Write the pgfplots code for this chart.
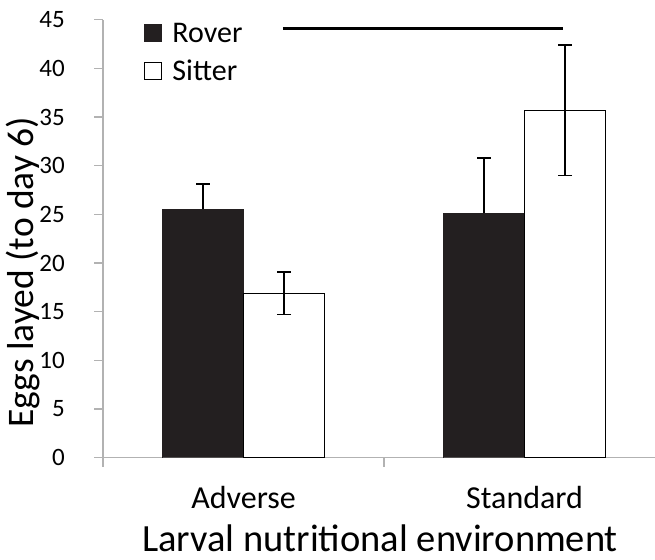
\documentclass[border=0pt]{standalone}
\usepackage{pgfplots}
\pgfplotsset{compat=1.18}
\usepackage{fontspec}
\setmainfont{Carlito}
\definecolor{axgray}{RGB}{178,178,178}
\definecolor{barblack}{RGB}{35,31,32}
\begin{document}
\begin{tikzpicture}[x=1pt,y=1pt]
\useasboundingbox (0,0) rectangle (655,559);
\begin{axis}[
  at={(103pt,101.3pt)}, anchor=south west,
  scale only axis, width=552pt, height=438pt,
  xmin=-0.5, xmax=1.464, ymin=0, ymax=45,
  axis x line=bottom, axis y line=left,
  axis line style={axgray, line width=1.3pt, -},
  every tick/.style={axgray, line width=1.3pt},
  tick align=outside, major tick length=9pt,
  ytick={0,5,...,45},
  xtick={-0.5,0.5}, xticklabels={},
  extra x ticks={0,1}, extra x tick labels={Adverse,Standard},
  extra x tick style={major tick length=0pt, xticklabel style={font=\fontsize{32}{36}\selectfont, anchor=base, yshift=-51pt, inner sep=0pt}},
  /pgf/number format/assume math mode=true,
  yticklabel style={font=\fontsize{25}{28}\selectfont, anchor=east, inner sep=0pt, xshift=-29pt},
  xlabel={Larval nutritional environment},
  xlabel style={font=\fontsize{38.5}{42}\selectfont, at={(axis description cs:0.502,0)}, anchor=base, yshift=-94pt, inner sep=0pt},
  ylabel={Eggs layed (to day 6)},
  ylabel style={font=\fontsize{37.5}{42}\selectfont, at={(axis description cs:-0.1265,0.423)}, anchor=base, inner sep=0pt},
  legend style={at={(axis description cs:0.0743,1)}, anchor=north west, yshift=-1pt, draw=none, fill=none, font=\fontsize{30}{36}\selectfont, inner sep=0pt, row sep=12pt, cells={anchor=west}},
]
\addplot[ybar, bar width=81pt, bar shift=-40.5pt, fill=barblack, draw=barblack,
  legend image code/.code={\draw[fill=barblack, draw=barblack, line width=1.2pt] (0pt,-8.5pt) rectangle (17pt,8.5pt); \path (25pt,0pt);}]
  coordinates {(0,25.5) (1,25.1)};
\addlegendentry{Rover}
\addplot[ybar, bar width=81pt, bar shift=40.5pt, fill=white, draw=black, line width=1.3pt,
  legend image code/.code={\draw[fill=white, draw=black, line width=1.2pt] (0pt,-8.5pt) rectangle (17pt,8.5pt); \path (25pt,0pt);}]
  coordinates {(0,16.9) (1,35.7)};
\addlegendentry{Sitter}
% error bars at bar centres
\addplot[draw=none, mark=none, forget plot,
  error bars/.cd, y dir=plus, y explicit,
  error bar style={draw=black, line width=1.5pt},
  error mark options={draw=black, line width=1.5pt, mark size=7pt, rotate=90}]
  coordinates {(-0.144,25.5) +- (0,2.6) (0.856,25.1) +- (0,5.7)};
\addplot[draw=none, mark=none, forget plot,
  error bars/.cd, y dir=both, y explicit,
  error bar style={draw=black, line width=1.5pt},
  error mark options={draw=black, line width=1.5pt, mark size=7pt, rotate=90}]
  coordinates {(0.144,16.9) +- (0,2.2) (1.144,35.7) +- (0,6.7)};
\addplot[black, line width=3pt, forget plot] coordinates {(0.14,44.1) (1.135,44.1)};
\end{axis}
\end{tikzpicture}
\end{document}
